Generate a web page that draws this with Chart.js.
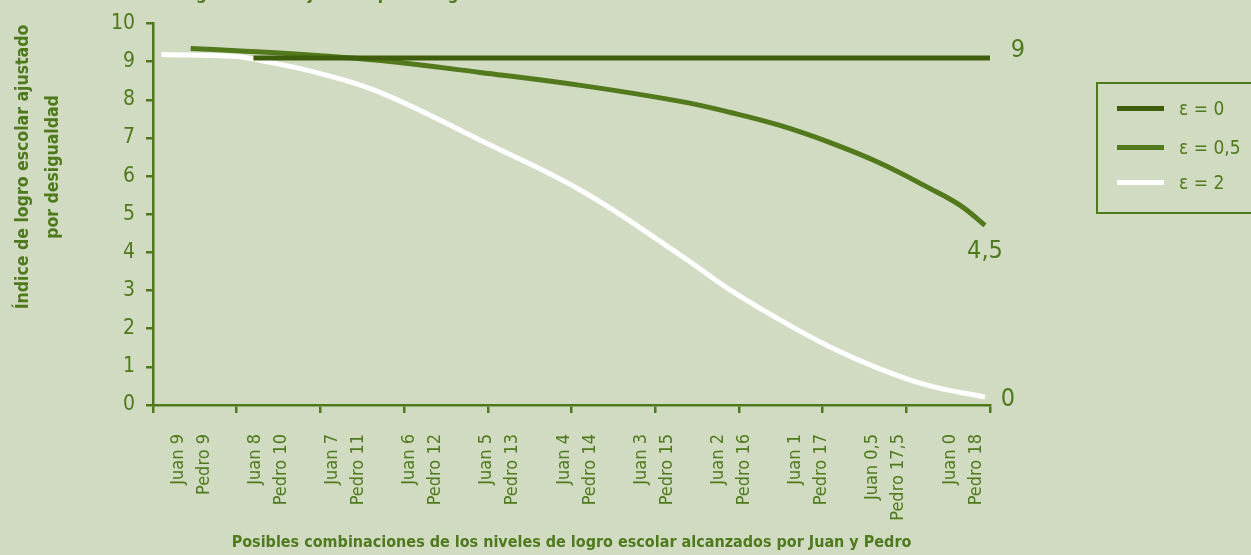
<!DOCTYPE html>
<html lang="es">
<head>
<meta charset="utf-8">
<title>Índice de logro escolar ajustado por desigualdad</title>
<script src="https://cdn.jsdelivr.net/npm/chart.js@4.4.1/dist/chart.umd.min.js"></script>
<style>
  html, body { margin: 0; padding: 0; background: #d1dbc2; }
  #wrap { position: relative; width: 1251px; height: 555px; overflow: hidden; background: #d1dbc2; }
  #topTitle {
    position: absolute; left: 96px; top: -17px; line-height: 18px; white-space: nowrap;
    font: bold 17px 'Liberation Sans Narrow', 'DejaVu Sans Condensed', sans-serif; color: #4e7a1d;
  }
  #legend {
    position: absolute; left: 1096px; top: 82px; width: 200px; height: 128px;
    border: 2px solid #4e7a1d;
  }
  .item { position: absolute; left: 19px; height: 26px; display: flex; align-items: center; }
  .swatch { width: 47px; height: 5px; }
  .txt { margin-left: 15px; font: 19px 'Liberation Sans Narrow', 'DejaVu Sans Condensed', sans-serif; color: #4e7a1d; }
</style>
</head>
<body>
<div id="wrap">
  <canvas id="chart" width="1251" height="555"></canvas>
  <div id="topTitle">Índice de logro escolar ajustado por desigualdad</div>
  <div id="legend"></div>
</div>
<script>
// categorías del eje x (dos líneas por etiqueta)
const xLabels = [
  ["Juan 9", "Pedro 9"],
  ["Juan 8", "Pedro 10"],
  ["Juan 7", "Pedro 11"],
  ["Juan 6", "Pedro 12"],
  ["Juan 5", "Pedro 13"],
  ["Juan 4", "Pedro 14"],
  ["Juan 3", "Pedro 15"],
  ["Juan 2", "Pedro 16"],
  ["Juan 1", "Pedro 17"],
  ["Juan 0,5", "Pedro 17,5"],
  ["Juan 0", "Pedro 18"]
];

const seriesNames = ["\u03b5 = 0", "\u03b5 = 0,5", "\u03b5 = 2"];

// valores (posición en el eje, índice)
const eps0X = [1.2, 10];
const eps0Y = [9.1, 9.1];

const eps05X = [0.45, 1.0, 2.0, 2.72, 3.91, 5.11, 6.3, 6.9, 7.49, 8.09, 8.69, 9.28, 9.64, 9.94];
const eps05Y = [9.35, 9.29, 9.16, 9.03, 8.72, 8.38, 7.96, 7.67, 7.33, 6.88, 6.34, 5.68, 5.24, 4.71];

const eps2X = [0.1, 1.0, 1.29, 2.0, 2.72, 3.91, 5.11, 6.3, 6.9, 7.49, 8.09, 8.69, 9.28, 9.94];
const eps2Y = [9.19, 9.14, 9.03, 8.69, 8.19, 6.94, 5.63, 3.93, 3.01, 2.23, 1.52, 0.94, 0.5, 0.21];

const endLabels = ["9", "4,5", "0"];

const yTitle = ["Índice de logro escolar ajustado", "por desigualdad"];
const xTitle = "Posibles combinaciones de los niveles de logro escolar alcanzados por Juan y Pedro";

const GREEN = "#4e7a1d";
const colors = ["#3e5e0c", "#52791b", "#ffffff"];
const FONT = "'Liberation Sans Narrow', 'DejaVu Sans Condensed', sans-serif";

// las etiquetas del original no caen sobre las marcas: se reparten un poco más juntas
const labelStart = 0.465;
const labelStep = 0.9224;

const toPoints = (xs, ys) => xs.map((x, i) => ({ x: x, y: ys[i] }));

// titulo del eje y y etiquetas al final de cada curva
const extraText = {
  id: "extraText",
  afterDraw(chart) {
    const ctx = chart.ctx;
    ctx.save();
    ctx.fillStyle = GREEN;
    ctx.font = "bold 17.5px " + FONT;
    ctx.textAlign = "center";
    ctx.textBaseline = "middle";
    ctx.translate(0, 167);
    ctx.rotate(-Math.PI / 2);
    ctx.fillText(yTitle[0], 0, 23);
    ctx.fillText(yTitle[1], 0, 53);
    ctx.restore();

    const offsets = [[28, -7], [0, 26], [23, 3]];
    ctx.save();
    ctx.fillStyle = GREEN;
    ctx.font = "25px " + FONT;
    ctx.textAlign = "center";
    ctx.textBaseline = "middle";
    chart.data.datasets.forEach((ds, i) => {
      const pts = chart.getDatasetMeta(i).data;
      const last = pts[pts.length - 1];
      ctx.fillText(endLabels[i], last.x + offsets[i][0], last.y + offsets[i][1]);
    });
    ctx.restore();
  }
};

const chart = new Chart(document.getElementById("chart"), {
  type: "line",
  data: {
    datasets: [
      { label: seriesNames[0], data: toPoints(eps0X, eps0Y) },
      { label: seriesNames[1], data: toPoints(eps05X, eps05Y) },
      { label: seriesNames[2], data: toPoints(eps2X, eps2Y) }
    ].map((d, i) => Object.assign(d, {
      xAxisID: "x",
      borderColor: colors[i],
      backgroundColor: colors[i],
      borderWidth: 5,
      pointRadius: 0,
      fill: false,
      tension: 0.4
    }))
  },
  options: {
    responsive: false,
    devicePixelRatio: 1,
    animation: false,
    layout: { padding: { top: 22, right: 261, left: 0, bottom: 0 } },
    plugins: { legend: { display: false }, tooltip: { enabled: false } },
    scales: {
      x: {
        type: "linear",
        position: "bottom",
        min: 0,
        max: 10,
        ticks: { display: false, stepSize: 1 },
        grid: { drawOnChartArea: false, tickLength: 8, color: GREEN, lineWidth: 2.5 },
        border: { color: GREEN, width: 2.5 }
      },
      xl: {
        type: "linear",
        position: "bottom",
        min: 0,
        max: 10,
        afterBuildTicks(scale) {
          scale.ticks = xLabels.map((_, k) => ({ value: labelStart + labelStep * k }));
        },
        grid: { display: false },
        border: { display: false },
        ticks: {
          autoSkip: false,
          maxRotation: 90,
          minRotation: 90,
          padding: 13,
          labelOffset: -14,
          color: GREEN,
          font: { family: FONT, size: 18, lineHeight: 1.44 },
          callback: (value, index) => xLabels[index]
        },
        title: {
          display: true,
          text: xTitle,
          color: GREEN,
          font: { family: FONT, size: 16, weight: "bold" },
          padding: { top: 0, bottom: 3 }
        },
        afterFit(scale) { scale.height = 142; }
      },
      y: {
        min: 0,
        max: 10,
        ticks: { stepSize: 1, color: GREEN, padding: 11, font: { family: FONT, size: 21 } },
        grid: { drawOnChartArea: false, tickLength: 7, color: GREEN, lineWidth: 2.5 },
        border: { color: GREEN, width: 2.5 },
        afterFit(scale) { scale.width = 153; }
      }
    }
  },
  plugins: [extraText]
});

// leyenda en HTML
const legend = document.getElementById("legend");
const rowTops = [11, 50, 85];
chart.data.datasets.forEach((ds, i) => {
  const item = document.createElement("div");
  item.className = "item";
  item.style.top = rowTops[i] + "px";
  const sw = document.createElement("span");
  sw.className = "swatch";
  sw.style.background = ds.borderColor;
  const t = document.createElement("span");
  t.className = "txt";
  t.textContent = ds.label;
  item.appendChild(sw);
  item.appendChild(t);
  legend.appendChild(item);
});
</script>
</body>
</html>
